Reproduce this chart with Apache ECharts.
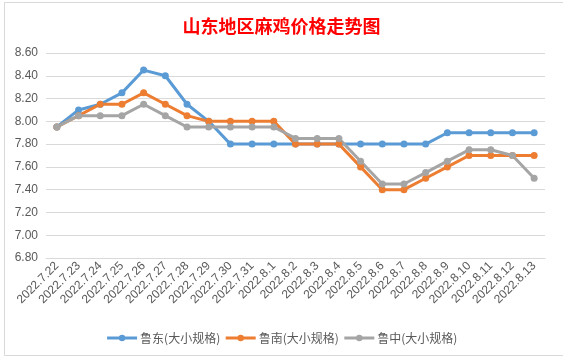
<!DOCTYPE html>
<html>
<head>
<meta charset="utf-8">
<script src="https://cdn.jsdelivr.net/npm/echarts@6/dist/echarts.min.js"></script>
<style>
html,body{margin:0;padding:0;background:#fff;}
#chart{width:563px;height:357px;}
</style>
</head>
<body>
<div id="chart"></div>
<script>
var titleText = '山东地区麻鸡价格走势图';
var categories = ['2022.7.22','2022.7.23','2022.7.24','2022.7.25','2022.7.26','2022.7.27','2022.7.28','2022.7.29','2022.7.30','2022.7.31','2022.8.1','2022.8.2','2022.8.3','2022.8.4','2022.8.5','2022.8.6','2022.8.7','2022.8.8','2022.8.9','2022.8.10','2022.8.11','2022.8.12','2022.8.13'];
var seriesNames = ['鲁东(大小规格)','鲁南(大小规格)','鲁中(大小规格)'];
var ludong = [7.95,8.10,8.15,8.25,8.45,8.40,8.15,8.00,7.80,7.80,7.80,7.80,7.80,7.80,7.80,7.80,7.80,7.80,7.90,7.90,7.90,7.90,7.90];
var lunan  = [7.95,8.05,8.15,8.15,8.25,8.15,8.05,8.00,8.00,8.00,8.00,7.80,7.80,7.80,7.60,7.40,7.40,7.50,7.60,7.70,7.70,7.70,7.70];
var luzhong= [7.95,8.05,8.05,8.05,8.15,8.05,7.95,7.95,7.95,7.95,7.95,7.85,7.85,7.85,7.65,7.45,7.45,7.55,7.65,7.75,7.75,7.70,7.50];
var yMin = 6.8, yMax = 8.6, yStep = 0.2;
var colors = ['#5B9BD5','#ED7D31','#A5A5A5'];

var chart = echarts.init(document.getElementById('chart'), null, {renderer:'canvas'});
function mk(name, data, color){
  return {
    name: name, type: 'line', data: data,
    symbol: 'circle', symbolSize: 7,
    lineStyle: {width: 3, color: color},
    itemStyle: {color: color},
    emphasis: {disabled: true}
  };
}
chart.setOption({
  animation: false,
  backgroundColor: '#fff',
  color: colors,
  title: {
    text: titleText, left: 'center', top: 12,
    textStyle: {color: '#FF0000', fontSize: 18, fontWeight: 'bold', fontFamily: 'Noto Sans CJK SC'}
  },
  graphic: [{
    type: 'rect', left: 2, top: 0, z: -1,
    shape: {width: 559, height: 353},
    style: {fill: 'none', stroke: '#d9d9d9', lineWidth: 1}
  }],
  grid: {left: 46, right: 18, top: 53, bottom: 99},
  legend: {
    data: seriesNames, bottom: 8, left: 'center',
    itemWidth: 30, itemHeight: 8, itemGap: 4,
    lineStyle: {width: 3},
    textStyle: {color: '#595959', fontSize: 12, fontFamily: 'Noto Sans CJK SC', padding: [0, 0, 0, -2]}
  },
  xAxis: {
    type: 'category', data: categories, boundaryGap: true,
    axisLine: {lineStyle: {color: '#d9d9d9'}},
    axisTick: {show: false},
    axisLabel: {rotate: 45, interval: 0, color: '#595959', fontSize: 12, margin: 6, fontFamily: 'Liberation Sans'}
  },
  yAxis: {
    type: 'value', min: yMin, max: yMax, interval: yStep,
    axisLine: {show: false}, axisTick: {show: false},
    splitLine: {lineStyle: {color: '#d9d9d9'}},
    axisLabel: {color: '#595959', fontSize: 12, margin: 8, fontFamily: 'Liberation Sans',
      formatter: function(v){ return v.toFixed(2); }}
  },
  series: [mk(seriesNames[0], ludong, colors[0]), mk(seriesNames[1], lunan, colors[1]), mk(seriesNames[2], luzhong, colors[2])]
});
</script>
</body>
</html>
